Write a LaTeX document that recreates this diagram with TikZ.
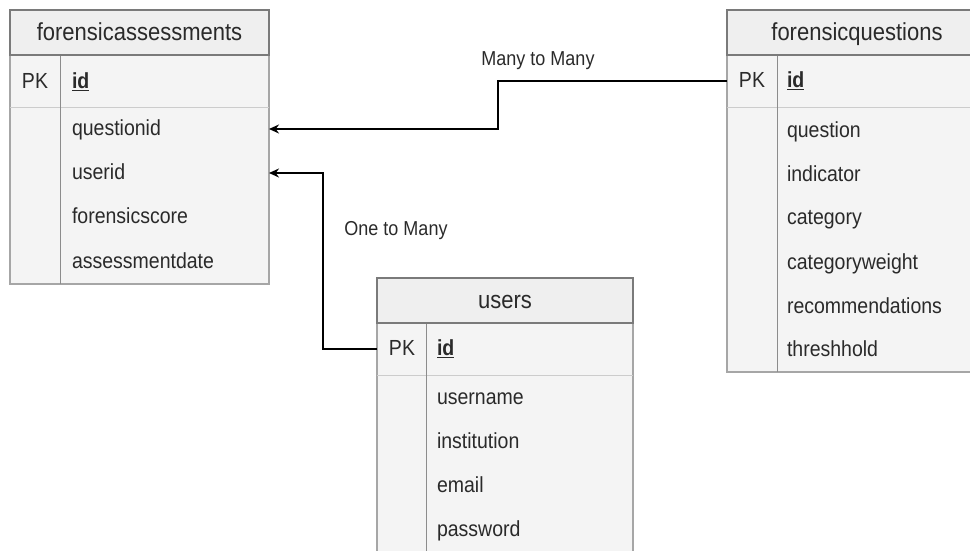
\documentclass[tikz,border=0pt]{standalone}
\usepackage{fontspec}
\usepackage{graphicx}
\setmainfont{Liberation Sans}
\usetikzlibrary{arrows.meta,calc}

\definecolor{hdrfill}{HTML}{EFEFEF}
\definecolor{hdrline}{HTML}{7A7A7A}
\definecolor{bodyfill}{HTML}{F4F4F4}
\definecolor{bodyline}{HTML}{A6A6A6}
\definecolor{rowline}{HTML}{CCCCCC}
\definecolor{colline}{HTML}{8C8C8C}
\definecolor{txt}{HTML}{2A2A2A}

% slightly tall lettering used throughout the schema
\newcommand{\tallsans}[1]{\scalebox{1}[1.12]{#1}}

\begin{document}
\begin{tikzpicture}[x=1pt,y=-1pt,
  tblbody/.style={draw=bodyline, fill=bodyfill, line width=1.2pt, inner sep=0pt, outer sep=0pt, anchor=north west},
  tblhead/.style={draw=hdrline, fill=hdrfill, line width=2.6pt, inner sep=0pt, outer sep=0pt, anchor=north west,
    font=\fontsize{22}{26}\selectfont, text=txt, text height=18pt, text depth=2pt},
  field/.style={anchor=west, inner sep=0pt, outer sep=0pt, font=\fontsize{19.5}{23}\selectfont, text=txt,
    text height=16pt, text depth=3pt},
  pkey/.style={field, anchor=center},
  rowsep/.style={draw=rowline, line width=1pt},
  colsep/.style={draw=colline, line width=1pt},
  rel/.style={draw=black, line width=1.5pt, -{Stealth[length=10pt,width=9pt]}},
  rellabel/.style={font=\fontsize{18}{22}\selectfont, text=txt, inner sep=0pt}
]
\path[use as bounding box] (0,0) rectangle (970,550);
\clip (0,0) rectangle (970,550);

% ---- table forensicassessments ----
\node[tblbody, minimum width=259pt, minimum height=229pt] (fa-body) at (10,55) {};
\draw[rowsep] ($(fa-body.north west)+(0,52)$) -- ($(fa-body.north east)+(0,52)$);
\draw[colsep] ($(fa-body.north west)+(50,0)$) -- ($(fa-body.south west)+(50,0)$);
\node[tblhead, minimum width=259pt, minimum height=45pt] (fa-head) at (10,10) {\tallsans{forensicassessments}};
\node[pkey] (fa-pk) at (35,82) {\tallsans{PK}};
\node[field] (fa-id) at (72,82) {\tallsans{\underline{\textbf{id}}}};
\node[field] (fa-questionid) at (72,129) {\tallsans{questionid}};
\node[field] (fa-userid) at (72,173) {\tallsans{userid}};
\node[field] (fa-forensicscore) at (72,217) {\tallsans{forensicscore}};
\node[field] (fa-assessmentdate) at (72,262) {\tallsans{assessmentdate}};

% ---- table forensicquestions ----
\node[tblbody, minimum width=260pt, minimum height=317pt] (fq-body) at (727,55) {};
\draw[rowsep] ($(fq-body.north west)+(0,52)$) -- ($(fq-body.north east)+(0,52)$);
\draw[colsep] ($(fq-body.north west)+(50,0)$) -- ($(fq-body.south west)+(50,0)$);
\node[tblhead, minimum width=260pt, minimum height=45pt] (fq-head) at (727,10) {\tallsans{forensicquestions}};
\node[pkey] (fq-pk) at (752,81) {\tallsans{PK}};
\node[field] (fq-id) at (787,81) {\tallsans{\underline{\textbf{id}}}};
\node[field] (fq-question) at (787,131) {\tallsans{question}};
\node[field] (fq-indicator) at (787,175) {\tallsans{indicator}};
\node[field] (fq-category) at (787,218) {\tallsans{category}};
\node[field] (fq-categoryweight) at (787,263) {\tallsans{categoryweight}};
\node[field] (fq-recommendations) at (787,307) {\tallsans{recommendations}};
\node[field] (fq-threshhold) at (787,350) {\tallsans{threshhold}};

% ---- table users ----
\node[tblbody, minimum width=256pt, minimum height=240pt] (us-body) at (377,323) {};
\draw[rowsep] ($(us-body.north west)+(0,52)$) -- ($(us-body.north east)+(0,52)$);
\draw[colsep] ($(us-body.north west)+(49,0)$) -- ($(us-body.south west)+(49,0)$);
\node[tblhead, minimum width=256pt, minimum height=45pt] (us-head) at (377,278) {\tallsans{users}};
\node[pkey] (us-pk) at (402,349) {\tallsans{PK}};
\node[field] (us-id) at (437,349) {\tallsans{\underline{\textbf{id}}}};
\node[field] (us-username) at (437,398) {\tallsans{username}};
\node[field] (us-institution) at (437,442) {\tallsans{institution}};
\node[field] (us-email) at (437,486) {\tallsans{email}};
\node[field] (us-password) at (437,530) {\tallsans{password}};

% ---- relationships ----
\coordinate (m2m-bend) at (498,105);
\coordinate (o2m-bend) at (323,260);
\draw[rel] (fq-body.west |- fq-pk) -| (m2m-bend) |- (fa-body.east |- fa-questionid);
\draw[rel] (us-body.west |- us-pk) -| (o2m-bend) |- (fa-body.east |- fa-userid);
\node[rellabel] (m2m-label) at (538,61) {\tallsans{Many to Many}};
\node[rellabel] (o2m-label) at (396,231) {\tallsans{One to Many}};
\end{tikzpicture}
\end{document}
